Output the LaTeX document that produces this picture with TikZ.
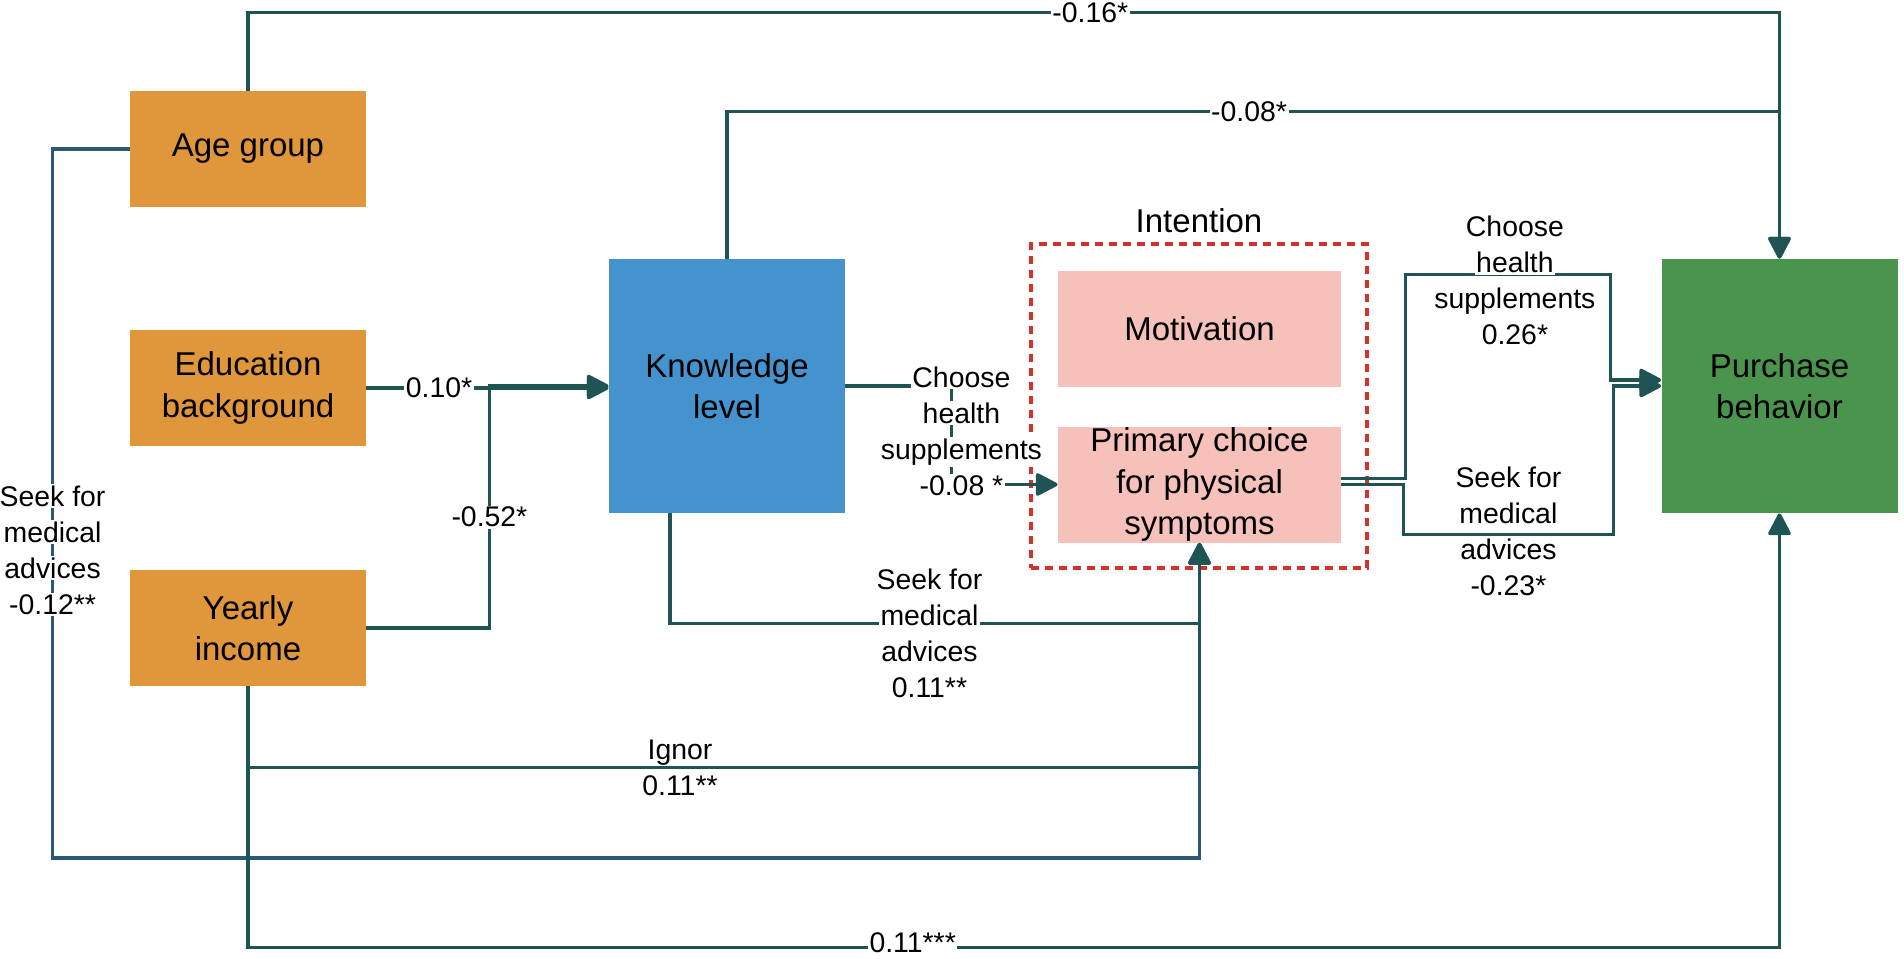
\documentclass[tikz,border=0pt]{standalone}
\usepackage{fontspec}
\setmainfont{Liberation Sans}
\usetikzlibrary{positioning,arrows.meta}

\definecolor{boxorange}{RGB}{224,150,58}
\definecolor{boxblue}{RGB}{69,147,206}
\definecolor{boxgreen}{RGB}{74,148,78}
\definecolor{boxpink}{RGB}{245,193,186}
\definecolor{dashred}{RGB}{214,48,42}
\definecolor{lineteal}{RGB}{31,84,84}
\definecolor{lineblue}{RGB}{44,88,120}

\newcommand{\boxfont}{\fontsize{16.5}{20.8}\selectfont}
\newcommand{\lblfont}{\fontsize{14.2}{18}\selectfont}
\newcommand{\wb}[1]{\colorbox{white}{#1}}
\setlength{\fboxsep}{0.8pt}

\begin{document}
\begin{tikzpicture}[x=0.5pt,y=-0.5pt,
  box/.style={minimum width=118pt,minimum height=58pt,inner xsep=2pt,inner ysep=0pt,align=center,font=\boxfont},
  link/.style={draw=lineteal,line width=1.8pt,-{Triangle[length=12pt,width=12pt,round]}},
  lbl/.style={align=center,font=\lblfont,inner sep=0pt}]
  \useasboundingbox (0,0) rectangle (1904,958);

  \node[box,fill=boxorange] (age) at (248,149) {Age group};
  \node[box,fill=boxorange] (edu) at (248,388) {Education\\background};
  \node[box,fill=boxorange] (inc) at (248,628) {Yearly\\income};
  \node[box,fill=boxblue,minimum height=127pt] (know) at (727,386) {Knowledge\\level};
  \node[draw=dashred,line width=1.9pt,dash pattern=on 3.8pt off 3.2pt,
        minimum width=168pt,minimum height=162pt] (intent) at (1199,406) {};
  \node[font=\boxfont,above=1pt of intent] (intlbl) {Intention};
  \node[box,fill=boxpink,minimum width=141.5pt] (motiv) at (1199.5,329) {Motivation};
  \node[box,fill=boxpink,minimum width=141.5pt] (prim) at (1199.5,484.5) {Primary choice\\for physical\\symptoms};
  \node[box,fill=boxgreen,minimum height=127pt] (purch) at (1779.5,386) {Purchase\\behavior};

  % age group
  \draw[link,draw=lineblue] (age.west) -- ++(-77,0) -- ++(0,709)
    node[lbl,pos=0.566] {\wb{Seek for}\\\wb{medical}\\\wb{advices}\\\wb{-0.12**}} -| (prim.south);
  \draw[link] (age.north) -- ++(0,-78) -| (purch.north)
    node[lbl,pos=0.275] {\wb{-0.16*}};

  % background to knowledge
  \draw[link] (edu.east) -- (edu.east -| know.west)
    node[lbl,pos=0.3] {\wb{0.10*}};
  \draw[link] (inc.east) -- ++(123,0) |- (know.west)
    node[lbl,pos=0.229] {\wb{-0.52*}};

  % income
  \draw[link] (inc.south) -- ++(0,81) -| (prim.south)
    node[lbl,pos=0.227] {Ignor\\0.11**};
  \draw[link] (inc.south) -- ++(0,261) -| (purch.south)
    node[lbl,pos=0.217,yshift=2.5pt] {\wb{0.11***}};

  % knowledge
  \draw[link] (know.north) -- ++(0,-147) -| (purch.north)
    node[lbl,pos=0.248] {\wb{-0.08*}};
  \draw[link] (know.east) -- ++(106,0) |- (prim.west)
    node[lbl,pos=0.23,xshift=5pt] {\wb{Choose}\\\wb{health}\\\wb{supplements}\\\wb{-0.08 *}};
  \draw[link] ([xshift=-28.5pt]know.south) -- ++(0,110) -| (prim.south)
    node[lbl,pos=0.245,yshift=-5pt] {\wb{Seek for}\\\wb{medical}\\\wb{advices}\\\wb{0.11**}};

  % intention to purchase
  \draw[link] ([yshift=3pt]prim.east) -- ++(64,0) -- ++(0,-204) -- ++(205,0)
    node[lbl,midway,xshift=3.5pt,yshift=-3pt] {\wb{Choose}\\\wb{health}\\\wb{supplements}\\\wb{0.26*}}
    |- ([yshift=3pt]purch.west);
  \draw[link] (prim.east) -- ++(62,0) -- ++(0,50) -- ++(210,0)
    node[lbl,midway,yshift=1.5pt] {\wb{Seek for}\\\wb{medical}\\\wb{advices}\\\wb{-0.23*}}
    |- (purch.west);
\end{tikzpicture}
\end{document}
